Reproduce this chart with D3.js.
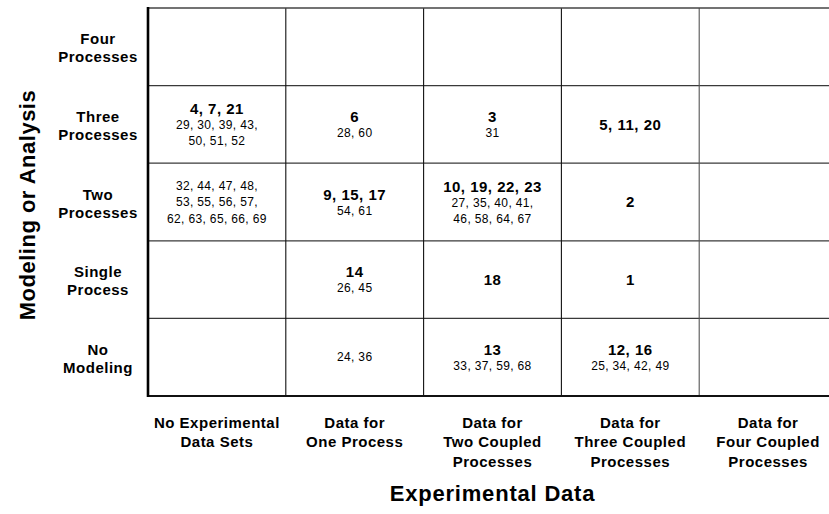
<!DOCTYPE html>
<html>
<head>
<meta charset="utf-8">
<script src="https://cdn.jsdelivr.net/npm/d3@7"></script>
<style>
  html, body { margin: 0; padding: 0; background: #fff; }
  svg { display: block; font-family: "Liberation Sans", Arial, Helvetica, sans-serif; }
</style>
</head>
<body>
<svg id="chart" width="829" height="514"></svg>
<script>
// ---- data ----
const rowLabels = [
  ["Four", "Processes"],
  ["Three", "Processes"],
  ["Two", "Processes"],
  ["Single", "Process"],
  ["No", "Modeling"]
];
const colLabels = [
  ["No Experimental", "Data Sets"],
  ["Data for", "One Process"],
  ["Data for", "Two Coupled", "Processes"],
  ["Data for", "Three Coupled", "Processes"],
  ["Data for", "Four Coupled", "Processes"]
];
const rowIds = ["four", "three", "two", "single", "none"];
const colIds = ["noexp", "one", "two", "three", "four"];
// cells: row id, column id, bold (major) entries, regular (minor) entries, as laid out in lines
const cellRows = ["three", "three", "three", "three", "two", "two", "two", "two", "single", "single", "single", "none", "none", "none"];
const cellCols = ["noexp", "one", "two", "three", "noexp", "one", "two", "three", "one", "two", "three", "one", "two", "three"];
const cellBold = [
  ["4, 7, 21"], ["6"], ["3"], ["5, 11, 20"],
  [], ["9, 15, 17"], ["10, 19, 22, 23"], ["2"],
  ["14"], ["18"], ["1"],
  [], ["13"], ["12, 16"]
];
const cellRegular = [
  ["29, 30, 39, 43,", "50, 51, 52"], ["28, 60"], ["31"], [],
  ["32, 44, 47, 48,", "53, 55, 56, 57,", "62, 63, 65, 66, 69"], ["54, 61"], ["27, 35, 40, 41,", "46, 58, 64, 67"], [],
  ["26, 45"], [], [],
  ["24, 36"], ["33, 37, 59, 68"], ["25, 34, 42, 49"]
];
const xTitle = "Experimental Data";
const yTitle = "Modeling or Analysis";

// ---- layout ----
const svg = d3.select("#chart");
const W = 829;
const gridLeft = 148, gridTop = 8, gridBottom = 396, colW = 137.8;

const x = d3.scaleBand().domain(colIds).range([gridLeft, gridLeft + colW * colIds.length]).padding(0);
const y = d3.scaleBand().domain(rowIds).range([gridTop, gridBottom]).padding(0);

const lines = svg.append("g");
// horizontal interior lines
rowIds.slice(1).forEach(r => {
  lines.append("line")
    .attr("x1", gridLeft).attr("x2", W)
    .attr("y1", y(r)).attr("y2", y(r))
    .attr("stroke", "#3a3a3a").attr("stroke-width", 1.2);
});
// vertical interior lines
colIds.slice(1).forEach((c, i) => {
  lines.append("line")
    .attr("x1", x(c)).attr("x2", x(c))
    .attr("y1", gridTop).attr("y2", gridBottom)
    .attr("stroke", i === 3 ? "#555" : "#111").attr("stroke-width", 1.1);
});
// top line
lines.append("line")
  .attr("x1", gridLeft).attr("x2", W)
  .attr("y1", gridTop).attr("y2", gridTop)
  .attr("stroke", "#444").attr("stroke-width", 1.3);
// bottom thick line
lines.append("line")
  .attr("x1", gridLeft - 1).attr("x2", W)
  .attr("y1", gridBottom).attr("y2", gridBottom)
  .attr("stroke", "#111").attr("stroke-width", 2.2);
// left thick line
lines.append("line")
  .attr("x1", gridLeft).attr("x2", gridLeft)
  .attr("y1", gridTop - 1).attr("y2", gridBottom + 1)
  .attr("stroke", "#000").attr("stroke-width", 2.6);

// ---- row labels ----
const rowG = svg.append("g");
rowIds.forEach((r, i) => {
  const cy = y(r) + y.bandwidth() / 2;
  const ls = rowLabels[i];
  const sp = 18;
  const cap = 11;
  const first = cy + 1 - (sp * (ls.length - 1)) / 2 + cap / 2;
  ls.forEach((t, j) => {
    rowG.append("text")
      .attr("x", 98).attr("y", first + j * sp)
      .attr("text-anchor", "middle")
      .attr("font-size", 15).attr("font-weight", "bold")
      .attr("letter-spacing", 0.5)
      .text(t);
  });
});

// ---- column labels ----
const colG = svg.append("g");
colIds.forEach((c, i) => {
  const cx = x(c) + x.bandwidth() / 2;
  colLabels[i].forEach((t, j) => {
    colG.append("text")
      .attr("x", cx).attr("y", 428 + j * 19.3)
      .attr("text-anchor", "middle")
      .attr("font-size", 15).attr("font-weight", "bold")
      .attr("letter-spacing", 0.5)
      .text(t);
  });
});

// ---- cells ----
const cellG = svg.append("g");
cellRows.forEach((r, k) => {
  const cx = x(cellCols[k]) + x.bandwidth() / 2;
  const cy = y(r) + y.bandwidth() / 2;
  const items = [];
  cellBold[k].forEach(t => items.push({ t, bold: true }));
  cellRegular[k].forEach(t => items.push({ t, bold: false }));
  // relative baselines
  let off = 0;
  items.forEach((it, j) => {
    if (j > 0) off += (items[j - 1].bold ? 15 : 16.5);
    it.off = off;
  });
  const topCap = items[0].bold ? 10.5 : 8.5;
  const blockCenter = (-topCap + off) / 2;
  const base = cy - blockCenter;
  items.forEach(it => {
    cellG.append("text")
      .attr("x", cx).attr("y", base + it.off)
      .attr("text-anchor", "middle")
      .attr("font-size", it.bold ? 15 : 12)
      .attr("font-weight", it.bold ? "bold" : "normal")
      .attr("letter-spacing", it.bold ? 0.5 : 0.35)
      .text(it.t);
  });
});

// ---- titles ----
svg.append("text")
  .attr("x", gridLeft + colW * colIds.length / 2).attr("y", 501)
  .attr("text-anchor", "middle")
  .attr("font-size", 22).attr("font-weight", "bold")
  .attr("letter-spacing", 0.8)
  .text(xTitle);
svg.append("text")
  .attr("transform", "translate(35," + ((gridTop + gridBottom) / 2 + 3) + ") rotate(-90)")
  .attr("text-anchor", "middle")
  .attr("font-size", 22).attr("font-weight", "bold")
  .attr("letter-spacing", 0.5)
  .text(yTitle);
</script>
</body>
</html>
